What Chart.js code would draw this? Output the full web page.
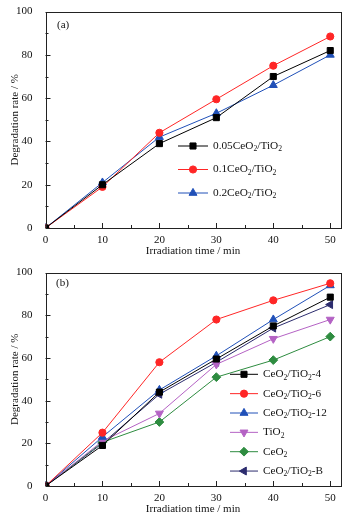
<!DOCTYPE html>
<html>
<head>
<meta charset="utf-8">
<script src="https://cdn.jsdelivr.net/npm/chart.js@4.4.1/dist/chart.umd.min.js"></script>
<style>
  html, body { margin: 0; padding: 0; background: #fff; }
  .panel { position: relative; width: 348px; height: 261px; }
</style>
</head>
<body>
<div class="panel"><canvas id="chartA"></canvas></div>
<div class="panel"><canvas id="chartB"></canvas></div>
<script>
// irradiation times (min)
const times = [0, 10, 20, 30, 40, 50];
const xTicks = [0, 10, 20, 30, 40, 50];
const yTicks = [0, 20, 40, 60, 80, 100];

// panel (a)
const labelsA = ['0.05CeO_2/TiO_2', '0.1CeO_2/TiO_2', '0.2CeO_2/TiO_2'];
const ce005 = [0, 20, 39, 51, 70, 82];
const ce01 = [0, 19, 44, 59.5, 75, 88.5];
const ce02 = [0, 21, 42, 53, 66, 80];

// panel (b)
const labelsB = ['CeO_2/TiO_2-4', 'CeO_2/TiO_2-6', 'CeO_2/TiO_2-12', 'TiO_2', 'CeO_2', 'CeO_2/TiO_2-B'];
const ct4 = [0, 19, 44, 59.5, 75, 88.5];
const ct6 = [0, 25, 58, 78, 87, 95];
const ct12 = [0, 23, 45, 61, 78, 94];
const tio2 = [0, 21, 34, 57, 69, 78];
const ceo2 = [0, 20.5, 30, 51, 59, 70];
const ctB = [0, 20, 43, 58, 74, 85];

const FONT = "'Liberation Serif', 'Times New Roman', serif";

const styles = {
  black:  { color: '#000000', point: 'rect', radius: 4.3, rot: 0 },
  red:    { color: '#ff2626', point: 'circle', radius: 3.6, rot: 0 },
  blue:   { color: '#2050b8', point: 'triangle', radius: 4.6, rot: 0 },
  violet: { color: '#b462c4', point: 'triangle', radius: 4.6, rot: 180 },
  green:  { color: '#2e8c40', point: 'rectRot', radius: 4.4, rot: 0 },
  navy:   { color: '#2c2c6e', point: 'triangle', radius: 4.6, rot: 270 }
};

function makeSet(label, values, st) {
  return {
    label: label,
    data: times.map((t, i) => ({ x: t, y: values[i] })),
    borderColor: st.color,
    backgroundColor: st.color,
    borderWidth: 1,
    pointStyle: st.point,
    pointRadius: st.radius,
    pointRotation: st.rot,
    pointBorderWidth: 1,
    tension: 0
  };
}

// text with _2 style subscripts
function drawSubText(ctx, text, x, y, size) {
  const parts = text.split(/(_\d)/);
  let cx = x;
  ctx.textBaseline = 'middle';
  ctx.textAlign = 'left';
  parts.forEach(p => {
    if (!p) return;
    if (p[0] === '_') {
      ctx.font = (size * 0.68) + 'px ' + FONT;
      ctx.fillText(p.slice(1), cx, y + size * 0.3);
      cx += ctx.measureText(p.slice(1)).width;
    } else {
      ctx.font = size + 'px ' + FONT;
      ctx.fillText(p, cx, y);
      cx += ctx.measureText(p).width;
    }
  });
}

const framePlugin = {
  id: 'frame',
  afterDraw(chart, args, opts) {
    const ctx = chart.ctx;
    const a = chart.chartArea;
    const xs = chart.scales.x, ys = chart.scales.y;
    ctx.save();
    ctx.strokeStyle = '#222';
    ctx.lineWidth = 1;
    ctx.strokeRect(Math.round(a.left) + 0.5, Math.round(a.top) + 0.5,
      Math.round(a.right - a.left), Math.round(a.bottom - a.top));
    ctx.beginPath();
    for (let v = 0; v <= 50; v += 5) {
      const px = Math.round(xs.getPixelForValue(v)) + 0.5;
      const len = v % 10 === 0 ? 5 : 3;
      ctx.moveTo(px, a.bottom);
      ctx.lineTo(px, a.bottom - len);
    }
    for (let v = 0; v <= 100; v += 10) {
      const py = Math.round(ys.getPixelForValue(v)) + 0.5;
      const len = v % 20 === 0 ? 5 : 3;
      ctx.moveTo(a.left, py);
      ctx.lineTo(a.left + len, py);
    }
    ctx.stroke();

    // panel label
    ctx.fillStyle = '#111';
    ctx.font = '11px ' + FONT;
    ctx.textAlign = 'left';
    ctx.textBaseline = 'middle';
    ctx.fillText(opts.tag, opts.tagX, opts.tagY);

    // legend
    const drawPoint = Chart.helpers && Chart.helpers.drawPoint;
    chart.data.datasets.forEach((ds, i) => {
      const y = opts.legY + i * opts.legGap;
      ctx.strokeStyle = ds.borderColor;
      ctx.lineWidth = 1;
      ctx.beginPath();
      ctx.moveTo(opts.legX0, y);
      ctx.lineTo(opts.legX1, y);
      ctx.stroke();
      if (drawPoint) {
        ctx.fillStyle = ds.backgroundColor;
        drawPoint(ctx, { pointStyle: ds.pointStyle, rotation: ds.pointRotation, radius: ds.pointRadius, borderWidth: 1 },
          (opts.legX0 + opts.legX1) / 2, y);
      }
      ctx.fillStyle = '#111';
      drawSubText(ctx, ds.label, opts.legX1 + 5, y, opts.legSize);
    });
    ctx.restore();
  }
};

function makeChart(id, sets, padTop, xHeight, xTitlePad, legend) {
  return new Chart(document.getElementById(id), {
    type: 'line',
    data: { datasets: sets },
    options: {
      responsive: true,
      maintainAspectRatio: false,
      animation: false,
      layout: { padding: { left: 0, right: 7.5, top: padTop, bottom: 0 } },
      plugins: {
        legend: { display: false },
        tooltip: { enabled: false },
        frame: legend
      },
      scales: {
        x: {
          type: 'linear',
          min: 0,
          max: 51.8,
          afterBuildTicks: s => { s.ticks = xTicks.map(v => ({ value: v })); },
          afterFit: s => { s.height = xHeight; },
          grid: { display: false },
          border: { display: false },
          ticks: { color: '#111', font: { family: FONT, size: 11 }, padding: -2, maxRotation: 0 },
          title: { display: true, text: 'Irradiation time / min', color: '#111',
            font: { family: FONT, size: 11 }, padding: { top: 0, bottom: xTitlePad } }
        },
        y: {
          min: 0,
          max: 100,
          afterBuildTicks: s => { s.ticks = yTicks.map(v => ({ value: v })); },
          afterFit: s => { s.width = 45.5; },
          grid: { display: false },
          border: { display: false },
          ticks: { color: '#111', font: { family: FONT, size: 11 }, padding: 5 },
          title: { display: true, text: 'Degradation rate / %', color: '#111',
            font: { family: FONT, size: 11 }, padding: { top: 9, bottom: 0 } }
        }
      }
    },
    plugins: [framePlugin]
  });
}

makeChart('chartA', [
  makeSet(labelsA[0], ce005, styles.black),
  makeSet(labelsA[1], ce01, styles.red),
  makeSet(labelsA[2], ce02, styles.blue)
], 11.5, 33, 3.4, { tag: '(a)', tagX: 57, tagY: 25, legX0: 178, legX1: 208, legY: 146, legGap: 23.5, legSize: 11.3 });

makeChart('chartB', [
  makeSet(labelsB[0], ct4, styles.black),
  makeSet(labelsB[1], ct6, styles.red),
  makeSet(labelsB[2], ct12, styles.blue),
  makeSet(labelsB[3], tio2, styles.violet),
  makeSet(labelsB[4], ceo2, styles.green),
  makeSet(labelsB[5], ctB, styles.navy)
], 8.5, 36, 6, { tag: '(b)', tagX: 56, tagY: 21.7, legX0: 230, legX1: 258, legY: 113.3, legGap: 19.35, legSize: 11.2 });
</script>
</body>
</html>
